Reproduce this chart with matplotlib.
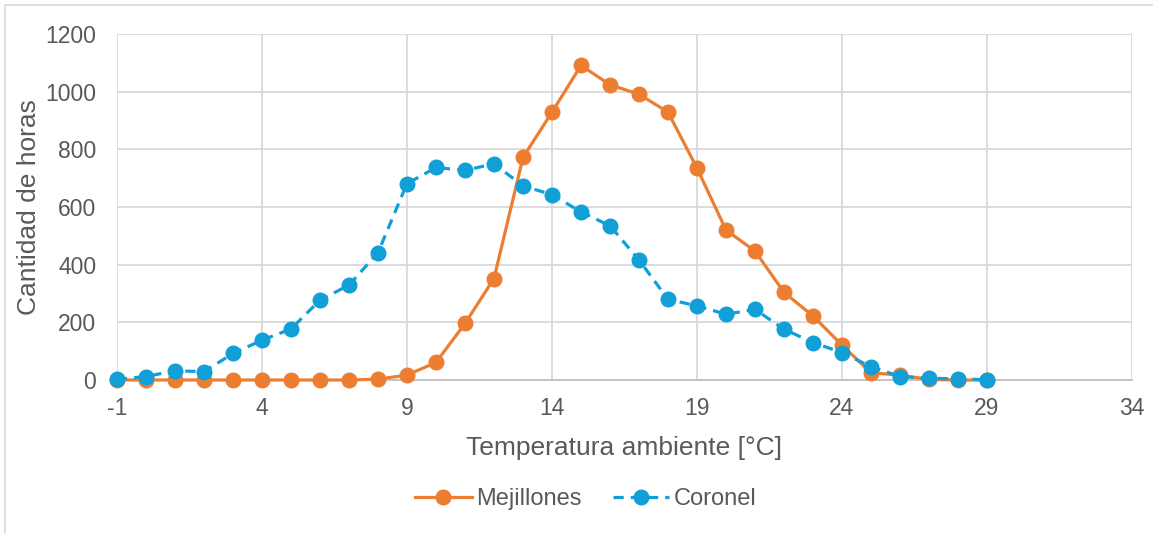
import matplotlib.pyplot as plt
from matplotlib.patches import Rectangle

# temperatura ambiente [°C]
temps = list(range(-1, 30))

mejillones = [0, 0, 0, 0, 0, 0, 0, 0, 0, 3, 17, 61, 196, 352, 772, 929,
              1091, 1024, 991, 929, 735, 520, 447, 304, 222, 121, 25, 17, 2, 0, 0]
coronel = [2, 12, 32, 29, 92, 138, 177, 277, 329, 442, 681, 737, 727, 750, 673, 643,
           583, 535, 416, 280, 257, 228, 245, 176, 130, 95, 46, 12, 6, 4, 1]

x_ticks = [-1, 4, 9, 14, 19, 24, 29, 34]
y_ticks = [0, 200, 400, 600, 800, 1000, 1200]

txt = '#595959'
grid_c = '#D9D9D9'
orange = '#ED7D31'
blue = '#109FD7'

plt.rcParams['font.family'] = ['Liberation Sans', 'DejaVu Sans']
plt.rcParams['axes.unicode_minus'] = False

fig = plt.figure(figsize=(11.53, 5.33), dpi=100)
W, H = 1153, 533
ax = fig.add_axes([117 / W, 1 - 380 / H, (1132 - 117) / W, (380 - 34) / H])

# chart border
fig.patches.append(Rectangle((5 / W, -0.01), 1.1, 1 - 5 / H + 0.01, transform=fig.transFigure,
                             fill=False, edgecolor='#D9D9D9', linewidth=1.2))

ax.plot(temps, mejillones, color=orange, lw=2.3, marker='o', ms=10.5, label='Mejillones',
        zorder=3, clip_on=False)
ax.plot(temps, coronel, color=blue, lw=2.3, marker='o', ms=10.5, dashes=(3.2, 2.2),
        label='Coronel', zorder=4, clip_on=False)

ax.set_xlim(-1, 34)
ax.set_ylim(0, 1200)
ax.set_xticks(x_ticks)
ax.set_yticks(y_ticks)
ax.grid(True, color=grid_c, lw=1.3)
ax.set_axisbelow(True)
for s in ('top', 'right', 'left'):
    ax.spines[s].set_visible(False)
ax.spines['bottom'].set_color('#BFBFBF')
ax.spines['bottom'].set_linewidth(1.3)
ax.tick_params(length=0, labelsize=16.5, labelcolor=txt)
ax.tick_params(axis='x', pad=12)
ax.tick_params(axis='y', pad=15)

ax.set_xlabel('Temperatura ambiente [°C]', fontsize=19, color=txt, labelpad=12)
ax.set_ylabel('Cantidad de horas', fontsize=19, color=txt, labelpad=3)

leg = fig.legend(loc='center', bbox_to_anchor=(586 / W, 1 - 499 / H), ncol=2, frameon=False,
                 fontsize=17, handlelength=2.4, columnspacing=1.3, handletextpad=0.2)
for t in leg.get_texts():
    t.set_color(txt)

fig.savefig('out.png', dpi=100)
